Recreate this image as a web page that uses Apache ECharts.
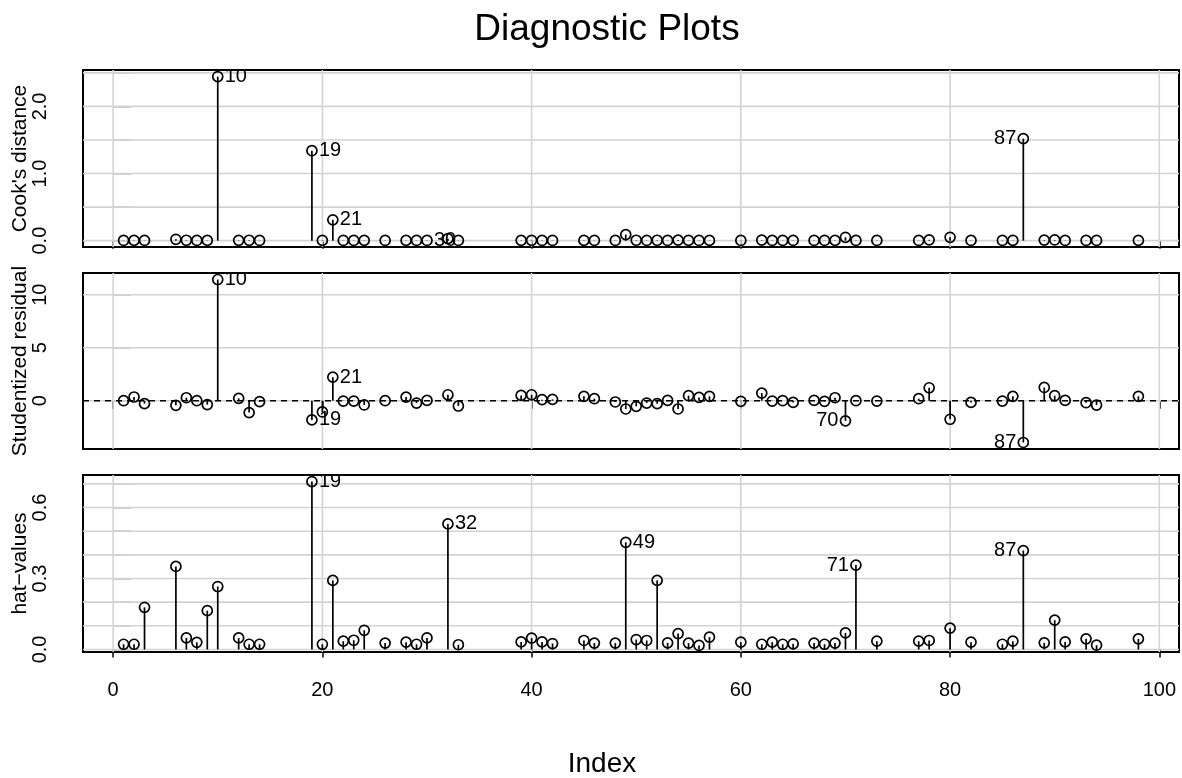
<!DOCTYPE html>
<html>
<head>
<meta charset="utf-8">
<script src="https://cdn.jsdelivr.net/npm/echarts@6/dist/echarts.min.js"></script>
<style>html,body{margin:0;padding:0;background:#fff}#c{width:1182px;height:778px}</style>
</head>
<body>
<div id="c"></div>
<script>
// ---- data ----
const idx = [1,2,3,6,7,8,9,10,12,13,14,19,20,21,22,23,24,26,28,29,30,32,33,39,40,41,42,45,46,48,49,50,51,52,53,54,55,56,57,60,62,63,64,65,67,68,69,70,71,73,77,78,80,82,85,86,87,89,90,91,93,94,98];
const cook = [0.003,0.004,0.003, 0.02,0.006,0.003,0.004, 2.445, 0.005,0.006,0.003, 1.34,0.004,0.31,0.003,0.003,0.004, 0.003, 0.004,0.003,0.003, 0.03,0.003, 0.004,0.005,0.003,0.003, 0.004,0.003, 0.003,0.09,0.006,0.003,0.006,0.003,0.008,0.004,0.003,0.004, 0.003, 0.007,0.003,0.003,0.003, 0.003,0.003,0.004,0.05,0.003, 0.003, 0.003,0.012, 0.05, 0.003, 0.003,0.004,1.52, 0.008,0.01,0.003, 0.003,0.003, 0.004];
const stud = [0.0,0.35,-0.28, -0.44,0.28,0.0,-0.37, 11.43, 0.22,-1.12,-0.09, -1.81,-1.06,2.22,-0.03,-0.03,-0.40, 0.0, 0.34,-0.22,0.03, 0.56,-0.50, 0.50,0.56,0.10,0.12, 0.41,0.19, -0.12,-0.78,-0.53,-0.22,-0.28,0.03,-0.78,0.47,0.31,0.41, -0.06, 0.72,-0.03,0.0,-0.16, 0.03,-0.06,0.28,-1.90,0.0, -0.03, 0.19,1.22, -1.75, -0.16, -0.03,0.41,-3.94, 1.25,0.47,0.03, -0.19,-0.41, 0.41];
const hat = [0.022,0.022,0.178, 0.351,0.049,0.030,0.164, 0.266, 0.049,0.022,0.022, 0.71,0.022,0.292,0.035,0.039,0.081, 0.027, 0.031,0.022,0.049, 0.531,0.020, 0.032,0.048,0.032,0.025, 0.038,0.027, 0.027,0.453,0.042,0.038,0.292,0.028,0.067,0.027,0.017,0.052, 0.031, 0.022,0.031,0.022,0.024, 0.027,0.022,0.027,0.070,0.357, 0.035, 0.035,0.038, 0.090, 0.031, 0.022,0.035,0.418, 0.028,0.124,0.032, 0.045,0.018, 0.045];

const xTicks = [0,20,40,60,80,100];
const cookGrid = [0,0.5,1,1.5,2,2.5];
const cookLabels = [0,1,2];
const studGrid = [0,5,10];
const studLabels = [0,5,10];
const hatGrid = [0,0.1,0.2,0.3,0.4,0.5,0.6,0.7];
const hatLabels = [0,0.3,0.6];
const cookIds = [10,19,21,30,87];
const studIds = [10,19,21,70,87];
const hatIds = [19,32,49,71,87];

const titleText = 'Diagnostic Plots';
const xName = 'Index';
const yNames = ["Cook's distance", 'Studentized residual', 'hat\u2212values'];

// ---- helpers ----
const FONT = "'Liberation Sans', Arial, Helvetica, sans-serif";
function ext(a){ const mn=Math.min(...a), mx=Math.max(...a), s=mx-mn; return [mn-0.04*s, mx+0.04*s]; }
const xr = ext(idx);
const yr = [ext(cook), ext(stud), ext(hat)];
const grids = [
  {left:83, top:70, width:1096, height:177},
  {left:83, top:273, width:1096, height:176},
  {left:83, top:475, width:1096, height:177}
];
const gridVals = [cookGrid, studGrid, hatGrid];
const labVals = [cookLabels, studLabels, hatLabels];
const fmts = [v=>v.toFixed(1), v=>String(v), v=>v.toFixed(1)];
const series = [[cook,cookIds],[stud,studIds],[hat,hatIds]];

const xAxis = grids.map((g,i)=>({
  type:'value', gridIndex:i, min:xr[0], max:xr[1],
  axisLine:{show:false}, splitLine:{show:false},
  axisTick:{show:true, customValues:xTicks, length:8, lineStyle:{color:'#000', width:1.5}},
  axisLabel:{show:i===2, customValues:xTicks, fontSize:20, fontFamily:FONT, color:'#000', margin:28}
}));
const yAxis = grids.map((g,i)=>({
  type:'value', gridIndex:i, min:yr[i][0], max:yr[i][1],
  axisLine:{show:false}, splitLine:{show:false},
  axisTick:{show:true, inside:true, customValues:gridVals[i], length:18, lineStyle:{color:'#bdbdbd', width:1.5}},
  axisLabel:{show:true, customValues:labVals[i], formatter:fmts[i], rotate:90, fontSize:20, fontFamily:FONT, color:'#000', margin:33},
  name:yNames[i], nameLocation:'middle', nameGap:52, nameRotate:90, nameMoveOverlap:false,
  nameTextStyle:{fontSize:21, fontFamily:FONT, color:'#000'}
}));

const allSeries = [];
grids.forEach((g,i)=>{
  allSeries.push({type:'custom', xAxisIndex:i, yAxisIndex:i, clip:true, z:1, silent:true,
    data: xTicks.map(v=>[v, 0]),
    renderItem:(params, api)=>{ const cs=params.coordSys; const x=api.coord([api.value(0), 0])[0];
      return {type:'line', shape:{x1:x, y1:cs.y, x2:x, y2:cs.y+cs.height}, style:{stroke:'#d3d3d3', lineWidth:1.6}}; }
  });
  allSeries.push({type:'custom', xAxisIndex:i, yAxisIndex:i, clip:true, z:1, silent:true,
    data: gridVals[i].map(v=>[0, v]),
    renderItem:(params, api)=>{ const cs=params.coordSys; const y=api.coord([0, api.value(1)])[1];
      return {type:'line', shape:{x1:cs.x, y1:y, x2:cs.x+cs.width, y2:y}, style:{stroke:'#d3d3d3', lineWidth:1.6}}; }
  });
  if (i===1) {
    allSeries.push({type:'custom', xAxisIndex:i, yAxisIndex:i, clip:true, z:2, silent:true,
      data: [[0,0]],
      renderItem:(params, api)=>{ const cs=params.coordSys; const y=api.coord([0, 0])[1];
        return {type:'line', shape:{x1:cs.x, y1:y, x2:cs.x+cs.width, y2:y}, style:{stroke:'#000', lineWidth:1.6, lineDash:[6,5]}}; }
    });
  }
  const vals = series[i][0], ids = series[i][1];
  allSeries.push({type:'custom', xAxisIndex:i, yAxisIndex:i, clip:true, z:3, silent:true,
    data: idx.map((x,k)=>[x, vals[k]]),
    renderItem:(params, api)=>{ const x=api.value(0), y=api.value(1);
      const p0=api.coord([x,0]), p1=api.coord([x,y]);
      return {type:'group', children:[
        {type:'line', shape:{x1:p0[0], y1:p0[1], x2:p1[0], y2:p1[1]}, style:{stroke:'#000', lineWidth:1.7}},
        {type:'circle', shape:{cx:p1[0], cy:p1[1], r:5}, style:{fill:'none', stroke:'#000', lineWidth:1.7}}
      ]}; }
  });
  allSeries.push({type:'custom', xAxisIndex:i, yAxisIndex:i, clip:true, z:4, silent:true,
    data: ids.map(id=>[id, vals[idx.indexOf(id)]]),
    renderItem:(params, api)=>{ const x=api.value(0), y=api.value(1); const p=api.coord([x,y]);
      const right = x < 50;
      return {type:'text', x: p[0] + (right?7:-7), y: p[1],
        style:{text:String(x), fill:'#000', fontSize:20, fontFamily:FONT,
          textAlign: right?'left':'right', textVerticalAlign:'middle'}}; }
  });
});

const chart = echarts.init(document.getElementById('c'), null, {renderer:'canvas'});
chart.setOption({
  animation:false,
  backgroundColor:'#fff',
  grid: grids.map(g=>Object.assign({show:true, borderColor:'#000', borderWidth:2, backgroundColor:'transparent', containLabel:false, outerBoundsMode:'none'}, g)),
  xAxis, yAxis,
  series: allSeries,
  graphic:[
    {type:'text', x:607, y:30, z:10, style:{text:titleText, fontSize:37, fontFamily:FONT, fill:'#000', textAlign:'center', textVerticalAlign:'middle'}},
    {type:'text', x:602, y:764, z:10, style:{text:xName, fontSize:28, fontFamily:FONT, fill:'#000', textAlign:'center', textVerticalAlign:'middle'}}
  ]
});
</script>
</body>
</html>
